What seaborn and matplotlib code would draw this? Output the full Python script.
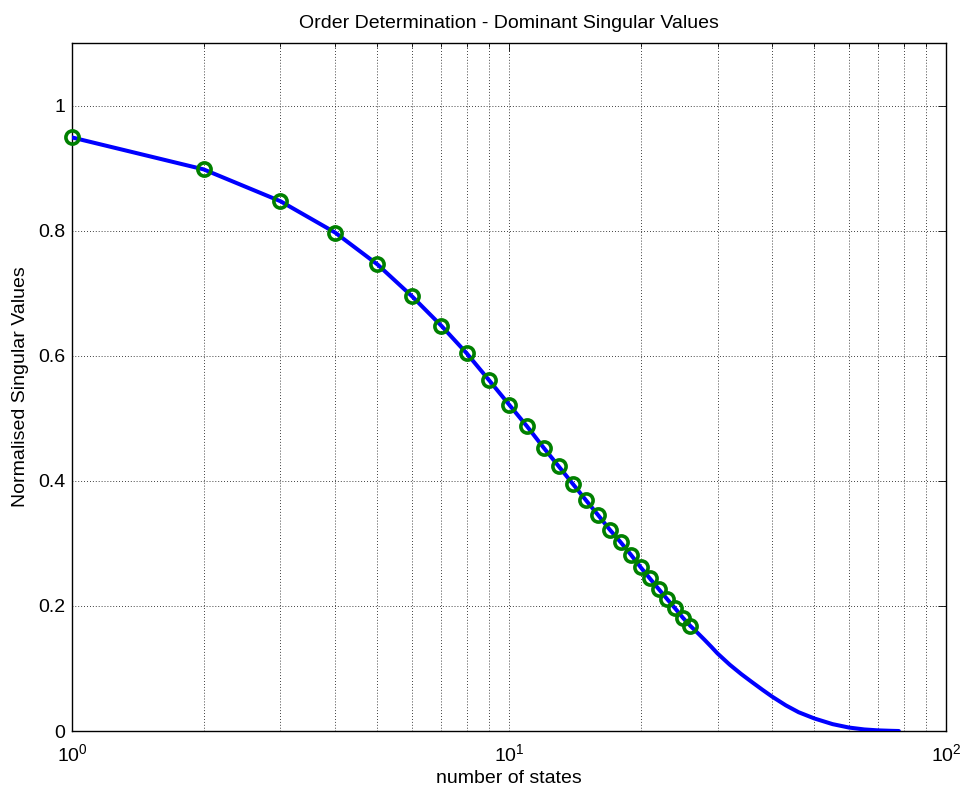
import numpy as np
import pandas as pd
import matplotlib
matplotlib.use("Agg")
import matplotlib.pyplot as plt
import seaborn as sns
from matplotlib.ticker import FixedLocator, FixedFormatter, LogLocator, NullFormatter

# Normalised singular values for the dominant states (shown with markers)
states = list(range(1, 27))
singular_values = [0.949, 0.898, 0.847, 0.797, 0.746, 0.695, 0.648, 0.604, 0.561, 0.522,
                   0.487, 0.453, 0.423, 0.395, 0.369, 0.345, 0.322, 0.302, 0.282, 0.262,
                   0.244, 0.227, 0.211, 0.196, 0.181, 0.168]

# Remaining tail of the singular value curve
tail_states = [27, 28, 29, 30, 32, 34, 36, 38, 40, 43, 46, 50, 55, 60, 65, 70, 75, 78]
tail_values = [0.157, 0.146, 0.135, 0.124, 0.106, 0.091, 0.078, 0.066, 0.055, 0.041,
               0.030, 0.020, 0.011, 0.0055, 0.0025, 0.001, 0.0003, 0.0]

y_ticks = [0, 0.2, 0.4, 0.6, 0.8, 1.0]
y_tick_labels = ["0", "0.2", "0.4", "0.6", "0.8", "1"]

sns.set_theme(style="white")
plt.rcParams["font.family"] = ["Liberation Sans", "DejaVu Sans"]
plt.rcParams["mathtext.fontset"] = "custom"
plt.rcParams["mathtext.rm"] = "Liberation Sans"
plt.rcParams["mathtext.it"] = "Liberation Sans"
plt.rcParams["text.color"] = "black"
plt.rcParams["axes.labelcolor"] = "black"

curve = pd.DataFrame({"states": states + tail_states,
                      "value": singular_values + tail_values})
dominant = pd.DataFrame({"states": states, "value": singular_values})

fig = plt.figure(figsize=(9.62, 7.89), dpi=100)
ax = fig.add_axes([0.0748, 0.0735, 0.9086, 0.872])

sns.lineplot(data=curve, x="states", y="value", color="#0000ff", linewidth=2.9,
             ax=ax, zorder=3)
ax.plot(dominant["states"], dominant["value"], linestyle="none", marker="o",
        markersize=9.5, markerfacecolor="none", markeredgecolor="#008000",
        markeredgewidth=2.6, zorder=4, clip_on=False)

ax.set_xscale("log")
ax.set_xlim(1, 100)
ax.set_ylim(0, 1.1)

ax.xaxis.set_major_locator(LogLocator(base=10))
ax.xaxis.set_minor_locator(LogLocator(base=10, subs=np.arange(2, 10)))
ax.xaxis.set_minor_formatter(NullFormatter())
ax.yaxis.set_major_locator(FixedLocator(y_ticks))
ax.yaxis.set_major_formatter(FixedFormatter(y_tick_labels))

grid_style = (0, (1, 2.5))
ax.grid(True, which="major", axis="both", color="black", linestyle=grid_style, linewidth=0.6)
ax.grid(True, which="minor", axis="x", color="black", linestyle=grid_style, linewidth=0.6)

ax.tick_params(which="both", direction="in", top=True, right=True, colors="black",
               labelcolor="black", labelsize=14, width=0.6)
ax.tick_params(which="major", length=6)
ax.tick_params(which="minor", length=3)
ax.tick_params(axis="x", which="major", pad=9)
ax.tick_params(axis="y", which="major", pad=5)
for side in ax.spines.values():
    side.set_color("black")
    side.set_linewidth(1.0)

ax.set_title("Order Determination - Dominant Singular Values", fontsize=14, pad=11,
             color="black")
ax.set_xlabel("number of states", fontsize=14, labelpad=3, color="black")
ax.set_ylabel("Normalised Singular Values", fontsize=14, labelpad=6, color="black")

fig.savefig("out.png", dpi=100, facecolor="white")
